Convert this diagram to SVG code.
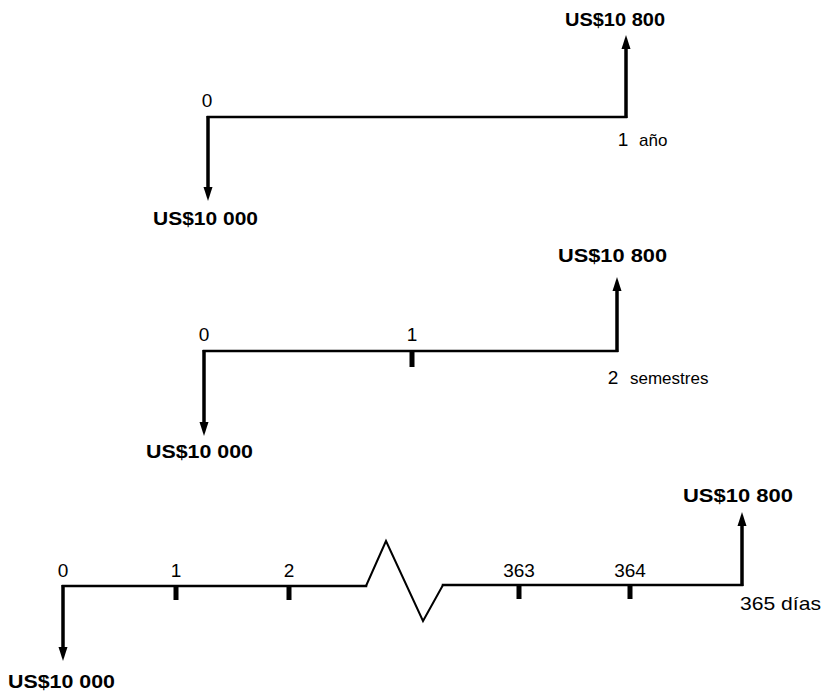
<svg xmlns="http://www.w3.org/2000/svg" width="824" height="692" viewBox="0 0 824 692">
<style>
.bg{fill:#ffffff}
.axis{fill:none;stroke:#000;stroke-width:2.5;stroke-linejoin:miter;stroke-linecap:square}
.zig{fill:none;stroke:#000;stroke-width:2;stroke-linejoin:miter}
.shaft{stroke:#000;stroke-width:3.5;fill:none}
.tick{fill:#000}
.head{fill:#000}
.num{font-family:"Liberation Sans",Arial,sans-serif;font-size:19px;fill:#000}
.word{font-family:"Liberation Sans",Arial,sans-serif;font-size:17px;fill:#000}
.money{font-family:"Liberation Sans",Arial,sans-serif;font-size:19px;font-weight:bold;fill:#000}
</style>
<defs>
<polygon id="up" points="0,0 -4.5,14 4.5,14"/>
<polygon id="down" points="0,0 -4.5,-14 4.5,-14"/>
</defs>
<rect class="bg" x="0" y="0" width="824" height="692"/>
<g id="connectors">
<!-- diagram 1 -->
<line class="axis" x1="208" y1="117" x2="626" y2="117"/>
<line class="shaft" x1="626" y1="118" x2="626" y2="48"/>
<use href="#up" class="head" x="626" y="35"/>
<line class="shaft" x1="208" y1="116" x2="208" y2="188"/>
<use href="#down" class="head" x="208" y="201"/>
<!-- diagram 2 -->
<line class="axis" x1="204" y1="351" x2="617" y2="351"/>
<line class="shaft" x1="617" y1="352" x2="617" y2="290"/>
<use href="#up" class="head" x="617" y="277"/>
<line class="shaft" x1="204" y1="350" x2="204" y2="423"/>
<use href="#down" class="head" x="204" y="436"/>
<rect class="tick" x="409.5" y="351" width="5" height="16"/>
<!-- diagram 3 -->
<polyline class="axis" points="63,586 366,586"/>
<polyline class="zig" points="366,586 386,541 423,621 443,585"/>
<polyline class="axis" points="443,585 742,585"/>
<line class="shaft" x1="742" y1="586" x2="742" y2="525"/>
<use href="#up" class="head" x="742" y="512"/>
<line class="shaft" x1="63" y1="585" x2="63" y2="648"/>
<use href="#down" class="head" x="63" y="661"/>
<rect class="tick" x="173.5" y="586" width="5" height="14"/>
<rect class="tick" x="286.5" y="586" width="5" height="14"/>
<rect class="tick" x="516.5" y="585" width="5" height="14"/>
<rect class="tick" x="627.5" y="585" width="5" height="14"/>
</g>
<g id="diagram1">
<text class="money" x="565" y="26" textLength="100" lengthAdjust="spacingAndGlyphs">US$10 800</text>
<text class="num" x="207" y="107" text-anchor="middle">0</text>
<text class="num" x="623" y="146" text-anchor="middle">1</text>
<text class="word" x="639" y="146">año</text>
<text class="money" x="153" y="225" textLength="105" lengthAdjust="spacingAndGlyphs">US$10 000</text>
</g>
<g id="diagram2">
<text class="money" x="558" y="262" textLength="109" lengthAdjust="spacingAndGlyphs">US$10 800</text>
<text class="num" x="204" y="341" text-anchor="middle">0</text>
<text class="num" x="412" y="341" text-anchor="middle">1</text>
<text class="num" x="613" y="384" text-anchor="middle">2</text>
<text class="word" x="630" y="384">semestres</text>
<text class="money" x="146" y="458" textLength="107" lengthAdjust="spacingAndGlyphs">US$10 000</text>
</g>
<g id="diagram3">
<text class="money" x="683" y="502" textLength="110" lengthAdjust="spacingAndGlyphs">US$10 800</text>
<text class="num" x="63" y="577" text-anchor="middle">0</text>
<text class="num" x="176" y="577" text-anchor="middle">1</text>
<text class="num" x="289" y="577" text-anchor="middle">2</text>
<text class="num" x="519" y="577" text-anchor="middle">363</text>
<text class="num" x="630" y="577" text-anchor="middle">364</text>
<text class="num" x="740" y="610" textLength="81" lengthAdjust="spacingAndGlyphs">365 días</text>
<text class="money" x="8" y="688" textLength="107" lengthAdjust="spacingAndGlyphs">US$10 000</text>
</g>
</svg>
